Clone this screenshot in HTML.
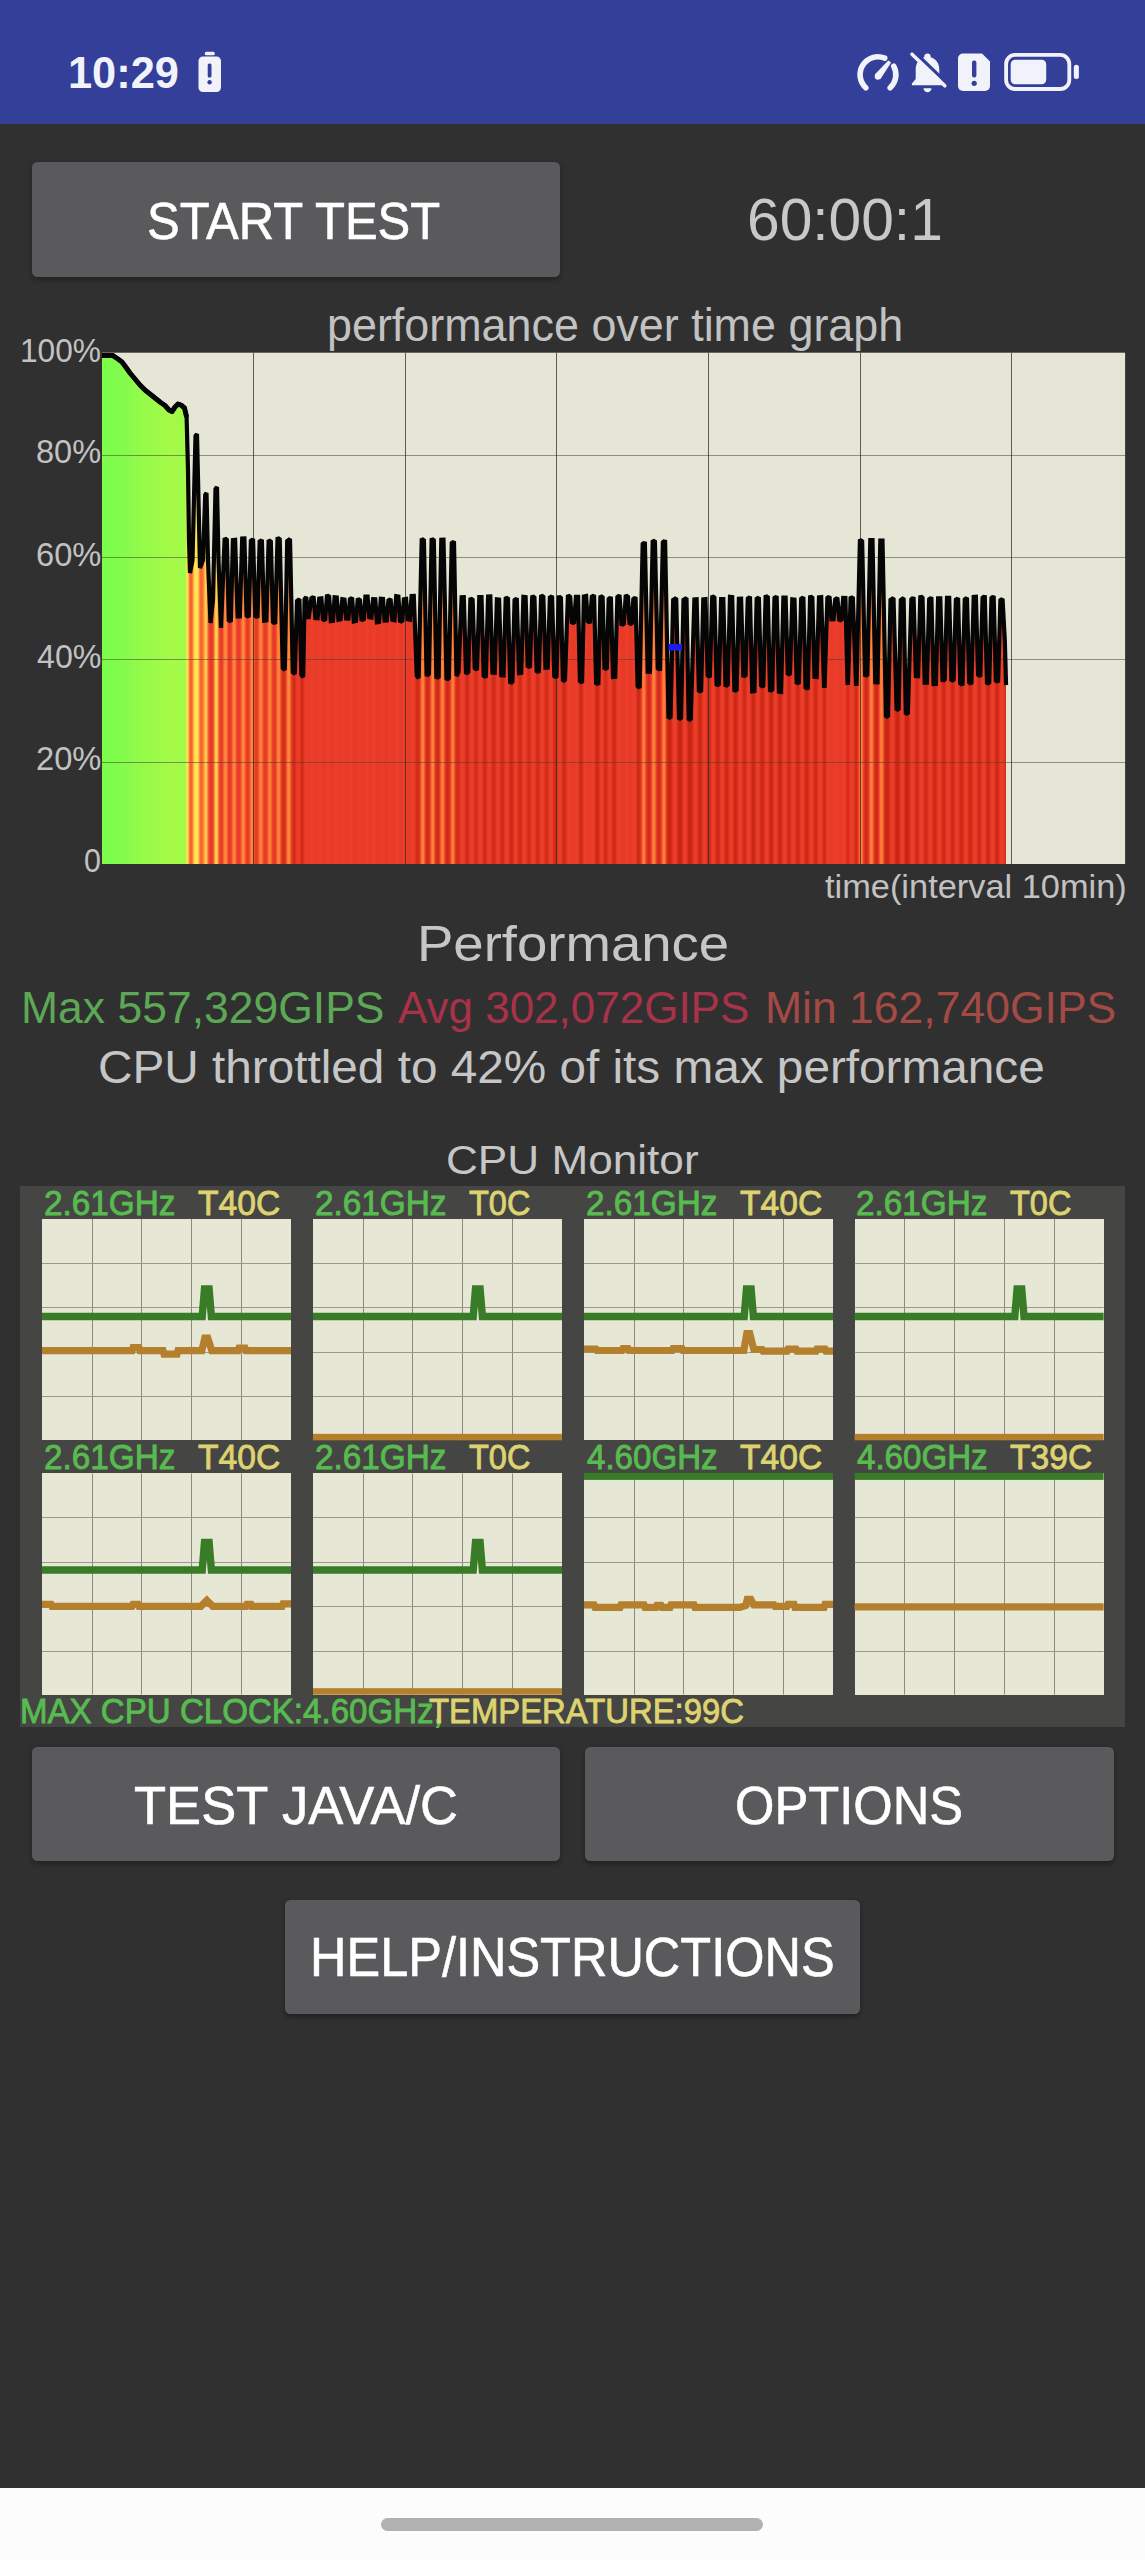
<!DOCTYPE html>
<html lang="en"><head><meta charset="utf-8"><title>CPU Throttling Test</title>
<style>
html,body{margin:0;padding:0;}
body{width:1145px;height:2560px;position:relative;overflow:hidden;background:#303030;font-family:"Liberation Sans",sans-serif;}
.t{position:absolute;white-space:nowrap;line-height:1;transform-origin:0 0;display:block;}
#status{position:absolute;left:0;top:0;width:1145px;height:124px;background:#343f99;}
#nav{position:absolute;left:0;top:2488px;width:1145px;height:72px;background:#fcfcfc;}
#nav .pill{position:absolute;left:381px;top:30px;width:382px;height:13px;border-radius:7px;background:#b1b1b1;}
.btn{position:absolute;background:#5a5a5c;border-radius:5.5px;box-shadow:0 2.5px 5px rgba(0,0,0,.32);}
#panel{position:absolute;left:20px;top:1186.2px;width:1105.2px;height:541px;background:#454544;}
.cell{position:absolute;width:249px;height:221.2px;background:#e7e7d6;}
svg{position:absolute;left:0;top:0;overflow:visible;}
.grp{position:absolute;left:0;top:0;width:0;height:0;}
</style></head><body>

<header id="status">
<span class="t" style="left:68.0px;top:50.8px;font-size:44.0px;color:#f2f2fb;transform:scaleX(0.9858);font-weight:700;">10:29</span>
<svg width="1145" height="124" viewBox="0 0 1145 124">
<g fill="#f2f2fb">
<rect x="204.8" y="51.800" width="10" height="3.400" rx="1.5"/>
<rect x="198.5" y="56.500" width="22.5" height="35.500" rx="4.500"/>
</g>
<rect x="207.7" y="63.5" width="3.8" height="14" rx="1.5" fill="#343f99"/>
<circle cx="209.6" cy="82.3" r="2.2" fill="#343f99"/>
<g fill="none" stroke="#f2f2fb" stroke-width="5.6" stroke-linecap="round">
<path d="M865.8 87.800 A17.900 17.900 0 0 1 884.700 58.100"/>
<path d="M893.800 66.300 A17.900 17.900 0 0 1 890.200 87.800"/>
</g>
<path d="M875.450 74.730 L888.460 61.250 L890.340 62.750 L880.150 78.470 Z" fill="#f2f2fb" stroke="#f2f2fb" stroke-width="1.2" stroke-linejoin="round"/>
<circle cx="877.8" cy="76.600" r="3.100" fill="#f2f2fb"/>
<g fill="#f2f2fb">
<path d="M927.5 53.5c-1.9 0-3.2 1.2-3.2 3v.8c-5.400 1.500-8.600 6.200-8.600 12.200v9.500l-3.800 4.500v1.800h31.200v-1.800l-3.800-4.500v-9.500c0-6-3.200-10.700-8.600-12.200v-.8c0-1.800-1.300-3-3.200-3z"/>
<path d="M923.5 88.300h8c0 2.300-1.800 4-4 4s-4-1.700-4-4z"/>
</g>
<path d="M914.300 51.800 L947.300 83.600" stroke="#343f99" stroke-width="3.400" stroke-linecap="butt"/>
<path d="M912 54.200 L944.800 85.800" stroke="#f2f2fb" stroke-width="3.500" stroke-linecap="round"/>
<path d="M963 53.500h19l8 8v24.500a5 5 0 0 1-5 5h-22a5 5 0 0 1-5-5v-27.500a5 5 0 0 1 5-5z" fill="#f2f2fb"/>
<rect x="972" y="60.500" width="4.400" height="17" rx="2" fill="#343f99"/>
<circle cx="974.2" cy="83.300" r="2.600" fill="#343f99"/>
<rect x="1006.100" y="54.900" width="63.200" height="34.100" rx="9" fill="none" stroke="#f2f2fb" stroke-width="3.800"/>
<rect x="1010.700" y="59.700" width="35.500" height="24.500" rx="4.500" fill="#f2f2fb"/>
<rect x="1073.800" y="64.800" width="5.100" height="14.100" rx="2.500" fill="#f2f2fb"/>
</svg>
</header>
<main class="grp">
<div class="btn" style="left:32px;top:162.2px;width:528px;height:114.9px;"><span class="t" style="left:114.8px;top:32.4px;font-size:52.0px;color:#ffffff;transform:scaleX(0.9424);-webkit-text-stroke:0.60px #ffffff;">START TEST</span></div>
<span class="t" style="left:747.1px;top:189.6px;font-size:60.0px;color:#c8c8c8;transform:scaleX(0.9781);">60:00:1</span>
<section class="grp" id="graph">
<span class="t" style="left:326.7px;top:301.6px;font-size:46.0px;color:#c2c2c2;transform:scaleX(0.9756);">performance over time graph</span>
<svg width="1145" height="900" viewBox="0 0 1145 900">
<defs><linearGradient id="gg" gradientUnits="userSpaceOnUse" x1="102.0" y1="0" x2="1006" y2="0"><stop offset="0.0000" stop-color="#7efc4c"/><stop offset="0.0011" stop-color="#7efc4c"/><stop offset="0.0022" stop-color="#7efc4c"/><stop offset="0.0033" stop-color="#7efc4c"/><stop offset="0.0044" stop-color="#7efc4c"/><stop offset="0.0055" stop-color="#7efc4c"/><stop offset="0.0066" stop-color="#7efc4c"/><stop offset="0.0077" stop-color="#7efc4c"/><stop offset="0.0088" stop-color="#7efc4c"/><stop offset="0.0100" stop-color="#7efc4c"/><stop offset="0.0111" stop-color="#7efc4c"/><stop offset="0.0122" stop-color="#7efc4c"/><stop offset="0.0133" stop-color="#7ffc4c"/><stop offset="0.0144" stop-color="#7ffc4c"/><stop offset="0.0155" stop-color="#80fc4c"/><stop offset="0.0166" stop-color="#80fc4c"/><stop offset="0.0177" stop-color="#80fc4c"/><stop offset="0.0188" stop-color="#81fc4b"/><stop offset="0.0199" stop-color="#82fc4b"/><stop offset="0.0210" stop-color="#82fc4b"/><stop offset="0.0221" stop-color="#83fc4b"/><stop offset="0.0232" stop-color="#84fc4b"/><stop offset="0.0243" stop-color="#85fc4b"/><stop offset="0.0254" stop-color="#85fc4b"/><stop offset="0.0265" stop-color="#86fb4b"/><stop offset="0.0277" stop-color="#87fb4b"/><stop offset="0.0288" stop-color="#88fb4b"/><stop offset="0.0299" stop-color="#89fb4b"/><stop offset="0.0310" stop-color="#8afb4b"/><stop offset="0.0321" stop-color="#8bfb4a"/><stop offset="0.0332" stop-color="#8cfb4a"/><stop offset="0.0343" stop-color="#8dfb4a"/><stop offset="0.0354" stop-color="#8efb4a"/><stop offset="0.0365" stop-color="#8ffb4a"/><stop offset="0.0376" stop-color="#90fb4a"/><stop offset="0.0387" stop-color="#90fb4a"/><stop offset="0.0398" stop-color="#91fb4a"/><stop offset="0.0409" stop-color="#92fb4a"/><stop offset="0.0420" stop-color="#93fb4a"/><stop offset="0.0431" stop-color="#94fb4a"/><stop offset="0.0442" stop-color="#94fb4a"/><stop offset="0.0454" stop-color="#95fb49"/><stop offset="0.0465" stop-color="#96fb49"/><stop offset="0.0476" stop-color="#96fb49"/><stop offset="0.0487" stop-color="#97fb49"/><stop offset="0.0498" stop-color="#98fb49"/><stop offset="0.0509" stop-color="#98fb49"/><stop offset="0.0520" stop-color="#99fb49"/><stop offset="0.0531" stop-color="#99fb49"/><stop offset="0.0542" stop-color="#9afb49"/><stop offset="0.0553" stop-color="#9bfa49"/><stop offset="0.0564" stop-color="#9bfa49"/><stop offset="0.0575" stop-color="#9cfa49"/><stop offset="0.0586" stop-color="#9cfa49"/><stop offset="0.0597" stop-color="#9dfa49"/><stop offset="0.0608" stop-color="#9dfa49"/><stop offset="0.0619" stop-color="#9efa49"/><stop offset="0.0631" stop-color="#9efa49"/><stop offset="0.0642" stop-color="#9ffa48"/><stop offset="0.0653" stop-color="#a0fa48"/><stop offset="0.0664" stop-color="#a0fa48"/><stop offset="0.0675" stop-color="#a1fa48"/><stop offset="0.0686" stop-color="#a1fa48"/><stop offset="0.0697" stop-color="#a2fa48"/><stop offset="0.0708" stop-color="#a2fa48"/><stop offset="0.0719" stop-color="#a3fa48"/><stop offset="0.0730" stop-color="#a4fa48"/><stop offset="0.0741" stop-color="#a6fa48"/><stop offset="0.0752" stop-color="#a8f948"/><stop offset="0.0763" stop-color="#a9f948"/><stop offset="0.0774" stop-color="#a9f948"/><stop offset="0.0785" stop-color="#a6fa48"/><stop offset="0.0796" stop-color="#a4fa48"/><stop offset="0.0808" stop-color="#a3fa48"/><stop offset="0.0819" stop-color="#a2fa48"/><stop offset="0.0830" stop-color="#a1fa48"/><stop offset="0.0841" stop-color="#a1fa48"/><stop offset="0.0852" stop-color="#a1fa48"/><stop offset="0.0863" stop-color="#a1fa48"/><stop offset="0.0874" stop-color="#a1fa48"/><stop offset="0.0885" stop-color="#a2fa48"/><stop offset="0.0896" stop-color="#a2fa48"/><stop offset="0.0907" stop-color="#a3fa48"/><stop offset="0.0918" stop-color="#a7f948"/><stop offset="0.0929" stop-color="#b4f749"/><stop offset="0.0940" stop-color="#ffe754"/><stop offset="0.0951" stop-color="#ffdc51"/><stop offset="0.0962" stop-color="#ff973f"/><stop offset="0.0973" stop-color="#f76733"/><stop offset="0.0985" stop-color="#f56232"/><stop offset="0.0996" stop-color="#f86b34"/><stop offset="0.1007" stop-color="#ff8d3c"/><stop offset="0.1018" stop-color="#ffd34f"/><stop offset="0.1029" stop-color="#ffe052"/><stop offset="0.1040" stop-color="#ffe653"/><stop offset="0.1051" stop-color="#ffe453"/><stop offset="0.1062" stop-color="#ffdc51"/><stop offset="0.1073" stop-color="#ffa743"/><stop offset="0.1084" stop-color="#fa7135"/><stop offset="0.1095" stop-color="#f66533"/><stop offset="0.1106" stop-color="#f76833"/><stop offset="0.1117" stop-color="#fb7436"/><stop offset="0.1128" stop-color="#ff993f"/><stop offset="0.1139" stop-color="#ffc64b"/><stop offset="0.1150" stop-color="#ffd650"/><stop offset="0.1162" stop-color="#ffaf45"/><stop offset="0.1173" stop-color="#fa7236"/><stop offset="0.1184" stop-color="#ef4a2c"/><stop offset="0.1195" stop-color="#ea3c29"/><stop offset="0.1206" stop-color="#e93a28"/><stop offset="0.1217" stop-color="#ea3c29"/><stop offset="0.1228" stop-color="#ed422a"/><stop offset="0.1239" stop-color="#fa7236"/><stop offset="0.1250" stop-color="#ffb747"/><stop offset="0.1261" stop-color="#ffd850"/><stop offset="0.1272" stop-color="#ffd14f"/><stop offset="0.1283" stop-color="#ff923e"/><stop offset="0.1294" stop-color="#f45c30"/><stop offset="0.1305" stop-color="#eb3e29"/><stop offset="0.1316" stop-color="#e93a29"/><stop offset="0.1327" stop-color="#eb3d29"/><stop offset="0.1338" stop-color="#f1532e"/><stop offset="0.1350" stop-color="#fa7236"/><stop offset="0.1361" stop-color="#ff853a"/><stop offset="0.1372" stop-color="#ff893b"/><stop offset="0.1383" stop-color="#fa7436"/><stop offset="0.1394" stop-color="#ed452b"/><stop offset="0.1405" stop-color="#e93a29"/><stop offset="0.1416" stop-color="#e83928"/><stop offset="0.1427" stop-color="#ea3c29"/><stop offset="0.1438" stop-color="#f2552f"/><stop offset="0.1449" stop-color="#fd7b38"/><stop offset="0.1460" stop-color="#ff873b"/><stop offset="0.1471" stop-color="#fd7e39"/><stop offset="0.1482" stop-color="#f56132"/><stop offset="0.1493" stop-color="#eb3f2a"/><stop offset="0.1504" stop-color="#e93a29"/><stop offset="0.1515" stop-color="#e93a28"/><stop offset="0.1527" stop-color="#eb3d29"/><stop offset="0.1538" stop-color="#f2562f"/><stop offset="0.1549" stop-color="#fc7937"/><stop offset="0.1560" stop-color="#ff8a3c"/><stop offset="0.1571" stop-color="#ff853a"/><stop offset="0.1582" stop-color="#f86a34"/><stop offset="0.1593" stop-color="#ec402a"/><stop offset="0.1604" stop-color="#e93b29"/><stop offset="0.1615" stop-color="#e93a29"/><stop offset="0.1626" stop-color="#eb3e29"/><stop offset="0.1637" stop-color="#f45d31"/><stop offset="0.1648" stop-color="#fd7d38"/><stop offset="0.1659" stop-color="#ff873b"/><stop offset="0.1670" stop-color="#fd7d38"/><stop offset="0.1681" stop-color="#f45c31"/><stop offset="0.1692" stop-color="#eb3e29"/><stop offset="0.1704" stop-color="#e93a28"/><stop offset="0.1715" stop-color="#e93a29"/><stop offset="0.1726" stop-color="#eb3f2a"/><stop offset="0.1737" stop-color="#f66533"/><stop offset="0.1748" stop-color="#fe8039"/><stop offset="0.1759" stop-color="#ff863a"/><stop offset="0.1770" stop-color="#fb7737"/><stop offset="0.1781" stop-color="#f1512e"/><stop offset="0.1792" stop-color="#ea3c29"/><stop offset="0.1803" stop-color="#e83928"/><stop offset="0.1814" stop-color="#e93a28"/><stop offset="0.1825" stop-color="#ec3f2a"/><stop offset="0.1836" stop-color="#f76733"/><stop offset="0.1847" stop-color="#fe8139"/><stop offset="0.1858" stop-color="#ff863a"/><stop offset="0.1869" stop-color="#fb7436"/><stop offset="0.1881" stop-color="#ef4b2d"/><stop offset="0.1892" stop-color="#e93b29"/><stop offset="0.1903" stop-color="#e83828"/><stop offset="0.1914" stop-color="#e93a28"/><stop offset="0.1925" stop-color="#ec402a"/><stop offset="0.1936" stop-color="#f86c34"/><stop offset="0.1947" stop-color="#ff863a"/><stop offset="0.1958" stop-color="#ff893b"/><stop offset="0.1969" stop-color="#fa7136"/><stop offset="0.1980" stop-color="#ec412a"/><stop offset="0.1991" stop-color="#e33524"/><stop offset="0.2002" stop-color="#d52e1b"/><stop offset="0.2013" stop-color="#d12c18"/><stop offset="0.2024" stop-color="#da311f"/><stop offset="0.2035" stop-color="#ea3d29"/><stop offset="0.2046" stop-color="#f86c34"/><stop offset="0.2058" stop-color="#ff873b"/><stop offset="0.2069" stop-color="#ff883b"/><stop offset="0.2080" stop-color="#fc7837"/><stop offset="0.2091" stop-color="#ee492c"/><stop offset="0.2102" stop-color="#e33524"/><stop offset="0.2113" stop-color="#d32d1a"/><stop offset="0.2124" stop-color="#cf2a17"/><stop offset="0.2135" stop-color="#d52e1b"/><stop offset="0.2146" stop-color="#e33524"/><stop offset="0.2157" stop-color="#ea3c29"/><stop offset="0.2168" stop-color="#eb3e2a"/><stop offset="0.2179" stop-color="#eb3e29"/><stop offset="0.2190" stop-color="#e83828"/><stop offset="0.2201" stop-color="#d72f1c"/><stop offset="0.2212" stop-color="#ce2a16"/><stop offset="0.2223" stop-color="#d22c19"/><stop offset="0.2235" stop-color="#e23524"/><stop offset="0.2246" stop-color="#eb3d29"/><stop offset="0.2257" stop-color="#eb3e2a"/><stop offset="0.2268" stop-color="#ea3d29"/><stop offset="0.2279" stop-color="#e93b29"/><stop offset="0.2290" stop-color="#e93a29"/><stop offset="0.2301" stop-color="#ea3c29"/><stop offset="0.2312" stop-color="#eb3e29"/><stop offset="0.2323" stop-color="#eb3f2a"/><stop offset="0.2334" stop-color="#eb3f2a"/><stop offset="0.2345" stop-color="#eb3d29"/><stop offset="0.2356" stop-color="#e93b29"/><stop offset="0.2367" stop-color="#e93a28"/><stop offset="0.2378" stop-color="#e93a28"/><stop offset="0.2389" stop-color="#ea3b29"/><stop offset="0.2400" stop-color="#eb3d29"/><stop offset="0.2412" stop-color="#eb3f2a"/><stop offset="0.2423" stop-color="#eb3e2a"/><stop offset="0.2434" stop-color="#ea3c29"/><stop offset="0.2445" stop-color="#e93a28"/><stop offset="0.2456" stop-color="#e83928"/><stop offset="0.2467" stop-color="#e93a28"/><stop offset="0.2478" stop-color="#ea3c29"/><stop offset="0.2489" stop-color="#eb3e2a"/><stop offset="0.2500" stop-color="#ec3f2a"/><stop offset="0.2511" stop-color="#eb3e2a"/><stop offset="0.2522" stop-color="#ea3c29"/><stop offset="0.2533" stop-color="#e93928"/><stop offset="0.2544" stop-color="#e83928"/><stop offset="0.2555" stop-color="#e93a28"/><stop offset="0.2566" stop-color="#ea3c29"/><stop offset="0.2577" stop-color="#eb3f2a"/><stop offset="0.2588" stop-color="#eb3f2a"/><stop offset="0.2600" stop-color="#eb3e29"/><stop offset="0.2611" stop-color="#e93b29"/><stop offset="0.2622" stop-color="#e93928"/><stop offset="0.2633" stop-color="#e93928"/><stop offset="0.2644" stop-color="#e93b29"/><stop offset="0.2655" stop-color="#eb3d29"/><stop offset="0.2666" stop-color="#eb3e2a"/><stop offset="0.2677" stop-color="#eb3e2a"/><stop offset="0.2688" stop-color="#ea3d29"/><stop offset="0.2699" stop-color="#e93a29"/><stop offset="0.2710" stop-color="#e93928"/><stop offset="0.2721" stop-color="#e93a28"/><stop offset="0.2732" stop-color="#ea3c29"/><stop offset="0.2743" stop-color="#eb3e29"/><stop offset="0.2754" stop-color="#eb3f2a"/><stop offset="0.2765" stop-color="#eb3e29"/><stop offset="0.2777" stop-color="#ea3c29"/><stop offset="0.2788" stop-color="#e93928"/><stop offset="0.2799" stop-color="#e83928"/><stop offset="0.2810" stop-color="#e93928"/><stop offset="0.2821" stop-color="#ea3c29"/><stop offset="0.2832" stop-color="#eb3e29"/><stop offset="0.2843" stop-color="#eb3e2a"/><stop offset="0.2854" stop-color="#eb3d29"/><stop offset="0.2865" stop-color="#ea3b29"/><stop offset="0.2876" stop-color="#e93928"/><stop offset="0.2887" stop-color="#e93928"/><stop offset="0.2898" stop-color="#e93a29"/><stop offset="0.2909" stop-color="#eb3d29"/><stop offset="0.2920" stop-color="#eb3f2a"/><stop offset="0.2931" stop-color="#eb3f2a"/><stop offset="0.2942" stop-color="#eb3e29"/><stop offset="0.2954" stop-color="#e93b29"/><stop offset="0.2965" stop-color="#e93a28"/><stop offset="0.2976" stop-color="#e93a28"/><stop offset="0.2987" stop-color="#ea3b29"/><stop offset="0.2998" stop-color="#eb3e29"/><stop offset="0.3009" stop-color="#eb3e2a"/><stop offset="0.3020" stop-color="#eb3e29"/><stop offset="0.3031" stop-color="#ea3c29"/><stop offset="0.3042" stop-color="#e93928"/><stop offset="0.3053" stop-color="#e83828"/><stop offset="0.3064" stop-color="#e93928"/><stop offset="0.3075" stop-color="#ea3c29"/><stop offset="0.3086" stop-color="#eb3e29"/><stop offset="0.3097" stop-color="#eb3e2a"/><stop offset="0.3108" stop-color="#eb3e29"/><stop offset="0.3119" stop-color="#ea3b29"/><stop offset="0.3131" stop-color="#e93928"/><stop offset="0.3142" stop-color="#e83928"/><stop offset="0.3153" stop-color="#e93a28"/><stop offset="0.3164" stop-color="#ea3c29"/><stop offset="0.3175" stop-color="#eb3e2a"/><stop offset="0.3186" stop-color="#eb3e2a"/><stop offset="0.3197" stop-color="#ea3d29"/><stop offset="0.3208" stop-color="#e93a29"/><stop offset="0.3219" stop-color="#e93928"/><stop offset="0.3230" stop-color="#e93928"/><stop offset="0.3241" stop-color="#e93b29"/><stop offset="0.3252" stop-color="#eb3e29"/><stop offset="0.3263" stop-color="#ec3f2a"/><stop offset="0.3274" stop-color="#eb3f2a"/><stop offset="0.3285" stop-color="#ea3d29"/><stop offset="0.3296" stop-color="#e93a28"/><stop offset="0.3308" stop-color="#e83928"/><stop offset="0.3319" stop-color="#e93928"/><stop offset="0.3330" stop-color="#ea3b29"/><stop offset="0.3341" stop-color="#eb3e29"/><stop offset="0.3352" stop-color="#eb3e2a"/><stop offset="0.3363" stop-color="#eb3e29"/><stop offset="0.3374" stop-color="#ea3c29"/><stop offset="0.3385" stop-color="#e93a28"/><stop offset="0.3396" stop-color="#e93928"/><stop offset="0.3407" stop-color="#e93a29"/><stop offset="0.3418" stop-color="#ea3d29"/><stop offset="0.3429" stop-color="#eb3f2a"/><stop offset="0.3440" stop-color="#ec3f2a"/><stop offset="0.3451" stop-color="#ea3d29"/><stop offset="0.3462" stop-color="#e63726"/><stop offset="0.3473" stop-color="#d8301d"/><stop offset="0.3485" stop-color="#cf2b17"/><stop offset="0.3496" stop-color="#ce2a16"/><stop offset="0.3507" stop-color="#d72f1c"/><stop offset="0.3518" stop-color="#e93a29"/><stop offset="0.3529" stop-color="#f45c31"/><stop offset="0.3540" stop-color="#fe8039"/><stop offset="0.3551" stop-color="#ff883b"/><stop offset="0.3562" stop-color="#fa7436"/><stop offset="0.3573" stop-color="#ec402a"/><stop offset="0.3584" stop-color="#df3322"/><stop offset="0.3595" stop-color="#d12b18"/><stop offset="0.3606" stop-color="#ce2a16"/><stop offset="0.3617" stop-color="#d62e1c"/><stop offset="0.3628" stop-color="#e93928"/><stop offset="0.3639" stop-color="#f45d31"/><stop offset="0.3650" stop-color="#fe8239"/><stop offset="0.3662" stop-color="#ff883b"/><stop offset="0.3673" stop-color="#f96e35"/><stop offset="0.3684" stop-color="#eb3e29"/><stop offset="0.3695" stop-color="#db311f"/><stop offset="0.3706" stop-color="#ce2a16"/><stop offset="0.3717" stop-color="#ce2a16"/><stop offset="0.3728" stop-color="#d8301d"/><stop offset="0.3739" stop-color="#ea3c29"/><stop offset="0.3750" stop-color="#f86a34"/><stop offset="0.3761" stop-color="#ff863b"/><stop offset="0.3772" stop-color="#ff833a"/><stop offset="0.3783" stop-color="#f66533"/><stop offset="0.3794" stop-color="#ea3c29"/><stop offset="0.3805" stop-color="#da301e"/><stop offset="0.3816" stop-color="#ce2a16"/><stop offset="0.3827" stop-color="#cd2a16"/><stop offset="0.3838" stop-color="#d52e1b"/><stop offset="0.3850" stop-color="#e83828"/><stop offset="0.3861" stop-color="#f2542f"/><stop offset="0.3872" stop-color="#fc7a38"/><stop offset="0.3883" stop-color="#ff833a"/><stop offset="0.3894" stop-color="#fa7236"/><stop offset="0.3905" stop-color="#ec3f2a"/><stop offset="0.3916" stop-color="#dd3220"/><stop offset="0.3927" stop-color="#d02b17"/><stop offset="0.3938" stop-color="#d02b17"/><stop offset="0.3949" stop-color="#d62e1c"/><stop offset="0.3960" stop-color="#e23524"/><stop offset="0.3971" stop-color="#e93b29"/><stop offset="0.3982" stop-color="#eb3e2a"/><stop offset="0.3993" stop-color="#eb3f2a"/><stop offset="0.4004" stop-color="#ea3c29"/><stop offset="0.4015" stop-color="#e13423"/><stop offset="0.4027" stop-color="#d32d1a"/><stop offset="0.4038" stop-color="#cf2b17"/><stop offset="0.4049" stop-color="#d12c18"/><stop offset="0.4060" stop-color="#dc3220"/><stop offset="0.4071" stop-color="#e93a28"/><stop offset="0.4082" stop-color="#eb3e29"/><stop offset="0.4093" stop-color="#eb3e2a"/><stop offset="0.4104" stop-color="#e93b29"/><stop offset="0.4115" stop-color="#df3321"/><stop offset="0.4126" stop-color="#d42d1a"/><stop offset="0.4137" stop-color="#d12c18"/><stop offset="0.4148" stop-color="#d52e1b"/><stop offset="0.4159" stop-color="#e13423"/><stop offset="0.4170" stop-color="#ea3c29"/><stop offset="0.4181" stop-color="#eb3f2a"/><stop offset="0.4192" stop-color="#eb3e2a"/><stop offset="0.4204" stop-color="#e93928"/><stop offset="0.4215" stop-color="#da301e"/><stop offset="0.4226" stop-color="#cf2b17"/><stop offset="0.4237" stop-color="#ce2a16"/><stop offset="0.4248" stop-color="#d32d1a"/><stop offset="0.4259" stop-color="#e23524"/><stop offset="0.4270" stop-color="#ea3c29"/><stop offset="0.4281" stop-color="#ec3f2a"/><stop offset="0.4292" stop-color="#eb3e2a"/><stop offset="0.4303" stop-color="#e83928"/><stop offset="0.4314" stop-color="#d9301e"/><stop offset="0.4325" stop-color="#d02b17"/><stop offset="0.4336" stop-color="#cf2b17"/><stop offset="0.4347" stop-color="#d62e1c"/><stop offset="0.4358" stop-color="#e53626"/><stop offset="0.4369" stop-color="#ea3d29"/><stop offset="0.4381" stop-color="#eb3e2a"/><stop offset="0.4392" stop-color="#ea3d29"/><stop offset="0.4403" stop-color="#e53626"/><stop offset="0.4414" stop-color="#d52e1b"/><stop offset="0.4425" stop-color="#ce2a16"/><stop offset="0.4436" stop-color="#cf2a16"/><stop offset="0.4447" stop-color="#d72f1c"/><stop offset="0.4458" stop-color="#e73828"/><stop offset="0.4469" stop-color="#eb3d29"/><stop offset="0.4480" stop-color="#eb3f2a"/><stop offset="0.4491" stop-color="#ea3c29"/><stop offset="0.4502" stop-color="#e13423"/><stop offset="0.4513" stop-color="#d12c18"/><stop offset="0.4524" stop-color="#cd2915"/><stop offset="0.4535" stop-color="#cd2a16"/><stop offset="0.4546" stop-color="#d72f1c"/><stop offset="0.4558" stop-color="#e83828"/><stop offset="0.4569" stop-color="#eb3e29"/><stop offset="0.4580" stop-color="#eb3e2a"/><stop offset="0.4591" stop-color="#ea3b29"/><stop offset="0.4602" stop-color="#e03422"/><stop offset="0.4613" stop-color="#d32d19"/><stop offset="0.4624" stop-color="#cf2b17"/><stop offset="0.4635" stop-color="#d22c19"/><stop offset="0.4646" stop-color="#dd3220"/><stop offset="0.4657" stop-color="#e93b29"/><stop offset="0.4668" stop-color="#eb3f2a"/><stop offset="0.4679" stop-color="#eb3f2a"/><stop offset="0.4690" stop-color="#ea3b29"/><stop offset="0.4701" stop-color="#df3322"/><stop offset="0.4712" stop-color="#d52e1b"/><stop offset="0.4723" stop-color="#d22c19"/><stop offset="0.4735" stop-color="#d62e1c"/><stop offset="0.4746" stop-color="#e23524"/><stop offset="0.4757" stop-color="#ea3c29"/><stop offset="0.4768" stop-color="#eb3f2a"/><stop offset="0.4779" stop-color="#eb3e2a"/><stop offset="0.4790" stop-color="#e93a28"/><stop offset="0.4801" stop-color="#db311f"/><stop offset="0.4812" stop-color="#d12c18"/><stop offset="0.4823" stop-color="#d02b17"/><stop offset="0.4834" stop-color="#d52e1b"/><stop offset="0.4845" stop-color="#e33625"/><stop offset="0.4856" stop-color="#ea3d29"/><stop offset="0.4867" stop-color="#ec3f2a"/><stop offset="0.4878" stop-color="#eb3e2a"/><stop offset="0.4889" stop-color="#e83928"/><stop offset="0.4900" stop-color="#db311f"/><stop offset="0.4912" stop-color="#d32c19"/><stop offset="0.4923" stop-color="#d22c19"/><stop offset="0.4934" stop-color="#d9301d"/><stop offset="0.4945" stop-color="#e73827"/><stop offset="0.4956" stop-color="#eb3d29"/><stop offset="0.4967" stop-color="#eb3f2a"/><stop offset="0.4978" stop-color="#eb3d29"/><stop offset="0.4989" stop-color="#e53626"/><stop offset="0.5000" stop-color="#d52e1b"/><stop offset="0.5011" stop-color="#ce2a16"/><stop offset="0.5022" stop-color="#ce2a16"/><stop offset="0.5033" stop-color="#d72f1c"/><stop offset="0.5044" stop-color="#e83828"/><stop offset="0.5055" stop-color="#eb3e29"/><stop offset="0.5066" stop-color="#eb3f2a"/><stop offset="0.5077" stop-color="#ea3c29"/><stop offset="0.5088" stop-color="#df3322"/><stop offset="0.5100" stop-color="#d02b17"/><stop offset="0.5111" stop-color="#cd2915"/><stop offset="0.5122" stop-color="#cf2b17"/><stop offset="0.5133" stop-color="#db311f"/><stop offset="0.5144" stop-color="#e83828"/><stop offset="0.5155" stop-color="#eb3e29"/><stop offset="0.5166" stop-color="#ec3f2a"/><stop offset="0.5177" stop-color="#eb3e2a"/><stop offset="0.5188" stop-color="#ea3c29"/><stop offset="0.5199" stop-color="#e93928"/><stop offset="0.5210" stop-color="#e83828"/><stop offset="0.5221" stop-color="#e83928"/><stop offset="0.5232" stop-color="#ea3c29"/><stop offset="0.5243" stop-color="#eb3e2a"/><stop offset="0.5254" stop-color="#eb3f2a"/><stop offset="0.5265" stop-color="#ea3d29"/><stop offset="0.5277" stop-color="#e03422"/><stop offset="0.5288" stop-color="#cf2b17"/><stop offset="0.5299" stop-color="#cd2915"/><stop offset="0.5310" stop-color="#cf2b17"/><stop offset="0.5321" stop-color="#e03423"/><stop offset="0.5332" stop-color="#ea3d29"/><stop offset="0.5343" stop-color="#ec3f2a"/><stop offset="0.5354" stop-color="#eb3e2a"/><stop offset="0.5365" stop-color="#ea3c29"/><stop offset="0.5376" stop-color="#e93928"/><stop offset="0.5387" stop-color="#e83828"/><stop offset="0.5398" stop-color="#e93928"/><stop offset="0.5409" stop-color="#ea3c29"/><stop offset="0.5420" stop-color="#eb3f2a"/><stop offset="0.5431" stop-color="#ec3f2a"/><stop offset="0.5442" stop-color="#ea3d29"/><stop offset="0.5454" stop-color="#e23524"/><stop offset="0.5465" stop-color="#d02b18"/><stop offset="0.5476" stop-color="#cc2915"/><stop offset="0.5487" stop-color="#cd2915"/><stop offset="0.5498" stop-color="#d82f1d"/><stop offset="0.5509" stop-color="#e93a28"/><stop offset="0.5520" stop-color="#eb3f2a"/><stop offset="0.5531" stop-color="#eb3f2a"/><stop offset="0.5542" stop-color="#e93b29"/><stop offset="0.5553" stop-color="#dd3220"/><stop offset="0.5564" stop-color="#d32c19"/><stop offset="0.5575" stop-color="#d12c18"/><stop offset="0.5586" stop-color="#d82f1d"/><stop offset="0.5597" stop-color="#e83828"/><stop offset="0.5608" stop-color="#eb3e29"/><stop offset="0.5619" stop-color="#eb3f2a"/><stop offset="0.5631" stop-color="#ea3c29"/><stop offset="0.5642" stop-color="#e03423"/><stop offset="0.5653" stop-color="#d22c19"/><stop offset="0.5664" stop-color="#ce2a16"/><stop offset="0.5675" stop-color="#d02b17"/><stop offset="0.5686" stop-color="#dc311f"/><stop offset="0.5697" stop-color="#e93b29"/><stop offset="0.5708" stop-color="#eb3f2a"/><stop offset="0.5719" stop-color="#eb3f2a"/><stop offset="0.5730" stop-color="#eb3d29"/><stop offset="0.5741" stop-color="#e93a29"/><stop offset="0.5752" stop-color="#e83828"/><stop offset="0.5763" stop-color="#e83828"/><stop offset="0.5774" stop-color="#e93928"/><stop offset="0.5785" stop-color="#ea3c29"/><stop offset="0.5796" stop-color="#eb3f2a"/><stop offset="0.5808" stop-color="#ec3f2a"/><stop offset="0.5819" stop-color="#eb3e29"/><stop offset="0.5830" stop-color="#e93b29"/><stop offset="0.5841" stop-color="#e83828"/><stop offset="0.5852" stop-color="#e83828"/><stop offset="0.5863" stop-color="#e93928"/><stop offset="0.5874" stop-color="#ea3d29"/><stop offset="0.5885" stop-color="#eb3e2a"/><stop offset="0.5896" stop-color="#eb3e2a"/><stop offset="0.5907" stop-color="#e93928"/><stop offset="0.5918" stop-color="#d72f1c"/><stop offset="0.5929" stop-color="#cd2915"/><stop offset="0.5940" stop-color="#cc2915"/><stop offset="0.5951" stop-color="#d32d19"/><stop offset="0.5962" stop-color="#e83828"/><stop offset="0.5973" stop-color="#f2562f"/><stop offset="0.5985" stop-color="#fc7b38"/><stop offset="0.5996" stop-color="#fe823a"/><stop offset="0.6007" stop-color="#f97035"/><stop offset="0.6018" stop-color="#ec402a"/><stop offset="0.6029" stop-color="#e03423"/><stop offset="0.6040" stop-color="#d22c19"/><stop offset="0.6051" stop-color="#d02b17"/><stop offset="0.6062" stop-color="#d72f1c"/><stop offset="0.6073" stop-color="#e83928"/><stop offset="0.6084" stop-color="#f35830"/><stop offset="0.6095" stop-color="#fd7d38"/><stop offset="0.6106" stop-color="#ff863a"/><stop offset="0.6117" stop-color="#fa7436"/><stop offset="0.6128" stop-color="#ed452b"/><stop offset="0.6139" stop-color="#e33524"/><stop offset="0.6150" stop-color="#d42d1a"/><stop offset="0.6162" stop-color="#d12c18"/><stop offset="0.6173" stop-color="#d62f1c"/><stop offset="0.6184" stop-color="#e73828"/><stop offset="0.6195" stop-color="#f1502e"/><stop offset="0.6206" stop-color="#fc7937"/><stop offset="0.6217" stop-color="#ff853a"/><stop offset="0.6228" stop-color="#fb7737"/><stop offset="0.6239" stop-color="#ee472c"/><stop offset="0.6250" stop-color="#e03422"/><stop offset="0.6261" stop-color="#cc2915"/><stop offset="0.6272" stop-color="#c82612"/><stop offset="0.6283" stop-color="#c82612"/><stop offset="0.6294" stop-color="#cb2814"/><stop offset="0.6305" stop-color="#d9301e"/><stop offset="0.6316" stop-color="#e93a29"/><stop offset="0.6327" stop-color="#eb3e2a"/><stop offset="0.6338" stop-color="#eb3e2a"/><stop offset="0.6350" stop-color="#ea3d29"/><stop offset="0.6361" stop-color="#e43625"/><stop offset="0.6372" stop-color="#ce2a16"/><stop offset="0.6383" stop-color="#c82612"/><stop offset="0.6394" stop-color="#c82612"/><stop offset="0.6405" stop-color="#c92612"/><stop offset="0.6416" stop-color="#d02b17"/><stop offset="0.6427" stop-color="#e73727"/><stop offset="0.6438" stop-color="#eb3e29"/><stop offset="0.6449" stop-color="#eb3e2a"/><stop offset="0.6460" stop-color="#eb3e29"/><stop offset="0.6471" stop-color="#e53726"/><stop offset="0.6482" stop-color="#cd2915"/><stop offset="0.6493" stop-color="#c82612"/><stop offset="0.6504" stop-color="#c82612"/><stop offset="0.6515" stop-color="#c92612"/><stop offset="0.6527" stop-color="#ce2a16"/><stop offset="0.6538" stop-color="#dd3220"/><stop offset="0.6549" stop-color="#e93a29"/><stop offset="0.6560" stop-color="#eb3e2a"/><stop offset="0.6571" stop-color="#eb3e29"/><stop offset="0.6582" stop-color="#e93928"/><stop offset="0.6593" stop-color="#d72f1d"/><stop offset="0.6604" stop-color="#cd2915"/><stop offset="0.6615" stop-color="#cb2814"/><stop offset="0.6626" stop-color="#cd2915"/><stop offset="0.6637" stop-color="#d9301e"/><stop offset="0.6648" stop-color="#e93a28"/><stop offset="0.6659" stop-color="#eb3e2a"/><stop offset="0.6670" stop-color="#eb3e29"/><stop offset="0.6681" stop-color="#e93928"/><stop offset="0.6692" stop-color="#da311f"/><stop offset="0.6704" stop-color="#d02b17"/><stop offset="0.6715" stop-color="#ce2a16"/><stop offset="0.6726" stop-color="#d22c19"/><stop offset="0.6737" stop-color="#e03423"/><stop offset="0.6748" stop-color="#ea3c29"/><stop offset="0.6759" stop-color="#eb3f2a"/><stop offset="0.6770" stop-color="#eb3e2a"/><stop offset="0.6781" stop-color="#e83928"/><stop offset="0.6792" stop-color="#d72f1c"/><stop offset="0.6803" stop-color="#cd2915"/><stop offset="0.6814" stop-color="#cc2915"/><stop offset="0.6825" stop-color="#cf2b17"/><stop offset="0.6836" stop-color="#df3322"/><stop offset="0.6847" stop-color="#ea3b29"/><stop offset="0.6858" stop-color="#eb3e2a"/><stop offset="0.6869" stop-color="#eb3d29"/><stop offset="0.6881" stop-color="#e73727"/><stop offset="0.6892" stop-color="#d42d1a"/><stop offset="0.6903" stop-color="#cd2915"/><stop offset="0.6914" stop-color="#cc2915"/><stop offset="0.6925" stop-color="#d02b18"/><stop offset="0.6936" stop-color="#e23524"/><stop offset="0.6947" stop-color="#ea3d29"/><stop offset="0.6958" stop-color="#eb3f2a"/><stop offset="0.6969" stop-color="#eb3d29"/><stop offset="0.6980" stop-color="#e53626"/><stop offset="0.6991" stop-color="#d12c18"/><stop offset="0.7002" stop-color="#cc2814"/><stop offset="0.7013" stop-color="#cc2814"/><stop offset="0.7024" stop-color="#cf2b17"/><stop offset="0.7035" stop-color="#e23524"/><stop offset="0.7046" stop-color="#ea3c29"/><stop offset="0.7058" stop-color="#eb3f2a"/><stop offset="0.7069" stop-color="#ea3d29"/><stop offset="0.7080" stop-color="#e53626"/><stop offset="0.7091" stop-color="#d52e1b"/><stop offset="0.7102" stop-color="#ce2a16"/><stop offset="0.7113" stop-color="#ce2a16"/><stop offset="0.7124" stop-color="#d72f1c"/><stop offset="0.7135" stop-color="#e73827"/><stop offset="0.7146" stop-color="#eb3d29"/><stop offset="0.7157" stop-color="#eb3f2a"/><stop offset="0.7168" stop-color="#ea3c29"/><stop offset="0.7179" stop-color="#e03422"/><stop offset="0.7190" stop-color="#ce2a16"/><stop offset="0.7201" stop-color="#cb2814"/><stop offset="0.7212" stop-color="#cc2814"/><stop offset="0.7223" stop-color="#d22c19"/><stop offset="0.7235" stop-color="#e63727"/><stop offset="0.7246" stop-color="#eb3d29"/><stop offset="0.7257" stop-color="#eb3f2a"/><stop offset="0.7268" stop-color="#ea3c29"/><stop offset="0.7279" stop-color="#df3322"/><stop offset="0.7290" stop-color="#cf2a16"/><stop offset="0.7301" stop-color="#cc2915"/><stop offset="0.7312" stop-color="#cd2915"/><stop offset="0.7323" stop-color="#d62e1c"/><stop offset="0.7334" stop-color="#e83828"/><stop offset="0.7345" stop-color="#eb3e2a"/><stop offset="0.7356" stop-color="#ec3f2a"/><stop offset="0.7367" stop-color="#ea3b29"/><stop offset="0.7378" stop-color="#dd3220"/><stop offset="0.7389" stop-color="#cd2a16"/><stop offset="0.7400" stop-color="#cb2814"/><stop offset="0.7412" stop-color="#cc2915"/><stop offset="0.7423" stop-color="#d62e1c"/><stop offset="0.7434" stop-color="#e83928"/><stop offset="0.7445" stop-color="#eb3e2a"/><stop offset="0.7456" stop-color="#eb3f2a"/><stop offset="0.7467" stop-color="#e93a29"/><stop offset="0.7478" stop-color="#da301e"/><stop offset="0.7489" stop-color="#cd2915"/><stop offset="0.7500" stop-color="#cb2814"/><stop offset="0.7511" stop-color="#cc2915"/><stop offset="0.7522" stop-color="#d72f1d"/><stop offset="0.7533" stop-color="#e93a28"/><stop offset="0.7544" stop-color="#eb3e2a"/><stop offset="0.7555" stop-color="#eb3e2a"/><stop offset="0.7566" stop-color="#e93b29"/><stop offset="0.7577" stop-color="#dd3220"/><stop offset="0.7588" stop-color="#d12c18"/><stop offset="0.7600" stop-color="#ce2a16"/><stop offset="0.7611" stop-color="#d22c19"/><stop offset="0.7622" stop-color="#df3321"/><stop offset="0.7633" stop-color="#e93b29"/><stop offset="0.7644" stop-color="#eb3e2a"/><stop offset="0.7655" stop-color="#eb3e29"/><stop offset="0.7666" stop-color="#e83928"/><stop offset="0.7677" stop-color="#d8301d"/><stop offset="0.7688" stop-color="#ce2a16"/><stop offset="0.7699" stop-color="#cd2915"/><stop offset="0.7710" stop-color="#cf2a17"/><stop offset="0.7721" stop-color="#de3321"/><stop offset="0.7732" stop-color="#ea3b29"/><stop offset="0.7743" stop-color="#eb3f2a"/><stop offset="0.7754" stop-color="#eb3e29"/><stop offset="0.7765" stop-color="#e83828"/><stop offset="0.7777" stop-color="#d52e1b"/><stop offset="0.7788" stop-color="#cc2915"/><stop offset="0.7799" stop-color="#cc2915"/><stop offset="0.7810" stop-color="#ce2a16"/><stop offset="0.7821" stop-color="#df3322"/><stop offset="0.7832" stop-color="#ea3c29"/><stop offset="0.7843" stop-color="#eb3f2a"/><stop offset="0.7854" stop-color="#eb3e29"/><stop offset="0.7865" stop-color="#e83828"/><stop offset="0.7876" stop-color="#d82f1d"/><stop offset="0.7887" stop-color="#ce2a16"/><stop offset="0.7898" stop-color="#ce2a16"/><stop offset="0.7909" stop-color="#d42d1a"/><stop offset="0.7920" stop-color="#e33625"/><stop offset="0.7931" stop-color="#ea3d29"/><stop offset="0.7942" stop-color="#eb3f2a"/><stop offset="0.7954" stop-color="#eb3e29"/><stop offset="0.7965" stop-color="#e83828"/><stop offset="0.7976" stop-color="#d8301d"/><stop offset="0.7987" stop-color="#ce2a16"/><stop offset="0.7998" stop-color="#d02b17"/><stop offset="0.8009" stop-color="#df3322"/><stop offset="0.8020" stop-color="#e93b29"/><stop offset="0.8031" stop-color="#eb3f2a"/><stop offset="0.8042" stop-color="#eb3f2a"/><stop offset="0.8053" stop-color="#eb3d29"/><stop offset="0.8064" stop-color="#e93b29"/><stop offset="0.8075" stop-color="#e93928"/><stop offset="0.8086" stop-color="#e93928"/><stop offset="0.8097" stop-color="#e93b29"/><stop offset="0.8108" stop-color="#eb3d29"/><stop offset="0.8119" stop-color="#eb3f2a"/><stop offset="0.8131" stop-color="#eb3e2a"/><stop offset="0.8142" stop-color="#ea3d29"/><stop offset="0.8153" stop-color="#e93a29"/><stop offset="0.8164" stop-color="#e93928"/><stop offset="0.8175" stop-color="#e93928"/><stop offset="0.8186" stop-color="#e93b29"/><stop offset="0.8197" stop-color="#eb3d29"/><stop offset="0.8208" stop-color="#eb3f2a"/><stop offset="0.8219" stop-color="#eb3e29"/><stop offset="0.8230" stop-color="#e83828"/><stop offset="0.8241" stop-color="#d52e1b"/><stop offset="0.8252" stop-color="#cf2b17"/><stop offset="0.8263" stop-color="#da311f"/><stop offset="0.8274" stop-color="#e93928"/><stop offset="0.8285" stop-color="#eb3e2a"/><stop offset="0.8296" stop-color="#eb3f2a"/><stop offset="0.8308" stop-color="#ea3c29"/><stop offset="0.8319" stop-color="#e53626"/><stop offset="0.8330" stop-color="#d72f1c"/><stop offset="0.8341" stop-color="#ce2a16"/><stop offset="0.8352" stop-color="#d42d1a"/><stop offset="0.8363" stop-color="#e83828"/><stop offset="0.8374" stop-color="#f1512e"/><stop offset="0.8385" stop-color="#fc7a38"/><stop offset="0.8396" stop-color="#ff863b"/><stop offset="0.8407" stop-color="#fc7a38"/><stop offset="0.8418" stop-color="#f1502e"/><stop offset="0.8429" stop-color="#e73727"/><stop offset="0.8440" stop-color="#d52e1b"/><stop offset="0.8451" stop-color="#ce2a16"/><stop offset="0.8462" stop-color="#d02b18"/><stop offset="0.8473" stop-color="#de3321"/><stop offset="0.8485" stop-color="#eb3e2a"/><stop offset="0.8496" stop-color="#f96d35"/><stop offset="0.8507" stop-color="#ff863a"/><stop offset="0.8518" stop-color="#ff823a"/><stop offset="0.8529" stop-color="#f56132"/><stop offset="0.8540" stop-color="#e93a28"/><stop offset="0.8551" stop-color="#d52e1b"/><stop offset="0.8562" stop-color="#cd2915"/><stop offset="0.8573" stop-color="#cd2915"/><stop offset="0.8584" stop-color="#d9301d"/><stop offset="0.8595" stop-color="#ea3d29"/><stop offset="0.8606" stop-color="#f86a34"/><stop offset="0.8617" stop-color="#ff853a"/><stop offset="0.8628" stop-color="#fe8239"/><stop offset="0.8639" stop-color="#f56032"/><stop offset="0.8650" stop-color="#e93a29"/><stop offset="0.8662" stop-color="#d32c19"/><stop offset="0.8673" stop-color="#c92713"/><stop offset="0.8684" stop-color="#c82612"/><stop offset="0.8695" stop-color="#c92713"/><stop offset="0.8706" stop-color="#d02b18"/><stop offset="0.8717" stop-color="#e73727"/><stop offset="0.8728" stop-color="#eb3e29"/><stop offset="0.8739" stop-color="#eb3e2a"/><stop offset="0.8750" stop-color="#eb3e2a"/><stop offset="0.8761" stop-color="#e93928"/><stop offset="0.8772" stop-color="#da301e"/><stop offset="0.8783" stop-color="#cc2915"/><stop offset="0.8794" stop-color="#c92612"/><stop offset="0.8805" stop-color="#c82612"/><stop offset="0.8816" stop-color="#cc2915"/><stop offset="0.8827" stop-color="#e03422"/><stop offset="0.8838" stop-color="#ea3c29"/><stop offset="0.8850" stop-color="#eb3e2a"/><stop offset="0.8861" stop-color="#eb3e2a"/><stop offset="0.8872" stop-color="#e83828"/><stop offset="0.8883" stop-color="#d02b17"/><stop offset="0.8894" stop-color="#c92713"/><stop offset="0.8905" stop-color="#c82612"/><stop offset="0.8916" stop-color="#c92713"/><stop offset="0.8927" stop-color="#ce2a16"/><stop offset="0.8938" stop-color="#de3321"/><stop offset="0.8949" stop-color="#e93b29"/><stop offset="0.8960" stop-color="#eb3e2a"/><stop offset="0.8971" stop-color="#eb3e2a"/><stop offset="0.8982" stop-color="#e93a29"/><stop offset="0.8993" stop-color="#dc3220"/><stop offset="0.9004" stop-color="#d12b18"/><stop offset="0.9015" stop-color="#ce2a16"/><stop offset="0.9027" stop-color="#d12c18"/><stop offset="0.9038" stop-color="#de3321"/><stop offset="0.9049" stop-color="#ea3b29"/><stop offset="0.9060" stop-color="#eb3f2a"/><stop offset="0.9071" stop-color="#eb3e2a"/><stop offset="0.9082" stop-color="#e93928"/><stop offset="0.9093" stop-color="#d9301d"/><stop offset="0.9104" stop-color="#ce2a16"/><stop offset="0.9115" stop-color="#cd2915"/><stop offset="0.9126" stop-color="#cf2b17"/><stop offset="0.9137" stop-color="#de3321"/><stop offset="0.9148" stop-color="#ea3b29"/><stop offset="0.9159" stop-color="#eb3f2a"/><stop offset="0.9170" stop-color="#eb3e29"/><stop offset="0.9181" stop-color="#e83828"/><stop offset="0.9192" stop-color="#d62f1c"/><stop offset="0.9204" stop-color="#cd2915"/><stop offset="0.9215" stop-color="#cc2915"/><stop offset="0.9226" stop-color="#d02b17"/><stop offset="0.9237" stop-color="#e03322"/><stop offset="0.9248" stop-color="#ea3c29"/><stop offset="0.9259" stop-color="#eb3f2a"/><stop offset="0.9270" stop-color="#eb3d29"/><stop offset="0.9281" stop-color="#e83828"/><stop offset="0.9292" stop-color="#d62f1c"/><stop offset="0.9303" stop-color="#ce2a16"/><stop offset="0.9314" stop-color="#cd2915"/><stop offset="0.9325" stop-color="#d22c19"/><stop offset="0.9336" stop-color="#e23524"/><stop offset="0.9347" stop-color="#ea3c29"/><stop offset="0.9358" stop-color="#eb3f2a"/><stop offset="0.9369" stop-color="#eb3d29"/><stop offset="0.9381" stop-color="#e63727"/><stop offset="0.9392" stop-color="#d52e1b"/><stop offset="0.9403" stop-color="#cd2a16"/><stop offset="0.9414" stop-color="#cd2915"/><stop offset="0.9425" stop-color="#d32d1a"/><stop offset="0.9436" stop-color="#e43625"/><stop offset="0.9447" stop-color="#ea3d29"/><stop offset="0.9458" stop-color="#eb3e2a"/><stop offset="0.9469" stop-color="#ea3c29"/><stop offset="0.9480" stop-color="#e33525"/><stop offset="0.9491" stop-color="#d22c19"/><stop offset="0.9502" stop-color="#cd2915"/><stop offset="0.9513" stop-color="#cd2915"/><stop offset="0.9524" stop-color="#d32d1a"/><stop offset="0.9535" stop-color="#e53726"/><stop offset="0.9546" stop-color="#eb3d29"/><stop offset="0.9558" stop-color="#eb3f2a"/><stop offset="0.9569" stop-color="#ea3c29"/><stop offset="0.9580" stop-color="#e13423"/><stop offset="0.9591" stop-color="#d12c18"/><stop offset="0.9602" stop-color="#cd2915"/><stop offset="0.9613" stop-color="#cd2915"/><stop offset="0.9624" stop-color="#d62e1b"/><stop offset="0.9635" stop-color="#e83828"/><stop offset="0.9646" stop-color="#eb3e29"/><stop offset="0.9657" stop-color="#ec3f2a"/><stop offset="0.9668" stop-color="#ea3c29"/><stop offset="0.9679" stop-color="#e23524"/><stop offset="0.9690" stop-color="#d32d1a"/><stop offset="0.9701" stop-color="#ce2a16"/><stop offset="0.9712" stop-color="#d02b17"/><stop offset="0.9723" stop-color="#da301e"/><stop offset="0.9735" stop-color="#e93928"/><stop offset="0.9746" stop-color="#eb3e2a"/><stop offset="0.9757" stop-color="#eb3f2a"/><stop offset="0.9768" stop-color="#ea3b29"/><stop offset="0.9779" stop-color="#de3321"/><stop offset="0.9790" stop-color="#cf2b17"/><stop offset="0.9801" stop-color="#cd2915"/><stop offset="0.9812" stop-color="#cd2a16"/><stop offset="0.9823" stop-color="#d8301d"/><stop offset="0.9834" stop-color="#e93928"/><stop offset="0.9845" stop-color="#eb3e2a"/><stop offset="0.9856" stop-color="#eb3f2a"/><stop offset="0.9867" stop-color="#e93b29"/><stop offset="0.9878" stop-color="#dd3220"/><stop offset="0.9889" stop-color="#cf2a17"/><stop offset="0.9900" stop-color="#cd2915"/><stop offset="0.9912" stop-color="#ce2a16"/><stop offset="0.9923" stop-color="#db311f"/><stop offset="0.9934" stop-color="#e93a28"/><stop offset="0.9945" stop-color="#eb3e29"/><stop offset="0.9956" stop-color="#eb3e2a"/><stop offset="0.9967" stop-color="#ea3c29"/><stop offset="0.9978" stop-color="#e73827"/><stop offset="0.9989" stop-color="#db311f"/><stop offset="1.0000" stop-color="#ce2a16"/></linearGradient></defs>
<rect x="102.0" y="352.7" width="1023.1" height="511.3" fill="#e6e6d6"/>
<polygon points="102.0,864.0 102.0,355.6 113.0,355.6 118.0,359.0 122.0,362.0 125.0,366.0 130.0,373.0 135.0,379.0 140.0,385.0 145.0,390.0 150.0,394.0 155.0,398.0 160.0,402.0 165.0,405.5 169.0,410.0 172.0,411.5 175.0,407.0 178.0,404.0 181.0,405.0 184.5,408.0 186.6,417.0 188.0,470.0 189.0,540.0 190.0,573.0 192.5,560.0 195.5,436.0 197.0,434.0 198.5,500.0 200.0,568.0 203.0,560.0 205.2,495.0 206.5,493.0 208.0,560.0 210.5,623.0 213.0,600.0 215.5,489.0 217.0,487.0 218.5,560.0 221.0,628.0 224.6,539.5 226.8,538.8 228.8,621.2 230.9,620.4 232.9,540.1 235.1,539.8 237.6,616.5 239.8,616.5 242.2,538.6 244.4,538.5 246.6,616.6 248.8,615.7 250.9,539.8 253.1,540.4 255.3,617.0 257.5,616.4 259.7,540.4 261.9,541.3 264.1,620.6 266.4,620.4 268.6,541.4 270.8,540.5 273.0,622.9 275.2,622.4 277.5,538.9 279.7,538.2 282.8,668.0 284.8,670.0 287.2,541.0 290.0,539.0 292.8,672.0 294.8,674.0 297.0,601.0 299.4,599.0 301.4,675.0 303.2,677.0 304.6,599.0 306.2,597.0 308.5,619.0 311.5,597.2 313.7,597.9 315.4,618.1 317.6,618.2 319.2,598.6 321.4,598.3 323.0,620.3 325.2,619.4 326.9,596.2 329.1,595.7 330.8,621.1 333.0,620.9 334.6,597.3 336.8,597.4 338.4,619.7 340.6,619.3 342.3,599.2 344.5,599.6 346.1,618.5 348.4,618.6 350.0,598.1 352.2,598.9 353.8,621.4 356.0,621.0 357.7,599.9 359.9,599.2 361.5,619.5 363.8,620.0 365.4,596.6 367.6,596.6 369.2,617.2 371.4,617.6 373.1,599.1 375.3,599.2 376.9,622.3 379.1,621.9 380.8,598.8 383.0,599.0 384.6,620.5 386.8,620.4 388.5,599.4 390.7,600.2 392.3,619.8 394.5,620.2 396.2,596.2 398.4,596.6 400.0,620.9 402.2,621.9 403.9,599.3 406.1,598.9 407.7,619.3 409.9,619.7 411.6,596.1 413.8,596.0 416.8,676.0 418.6,678.0 421.7,540.0 423.9,539.2 426.6,674.5 428.9,675.0 431.6,539.9 433.8,539.4 436.4,677.1 438.6,677.9 441.3,539.7 443.5,539.6 446.5,678.4 448.8,679.2 451.8,542.0 454.0,542.7 456.5,676.0 458.5,672.0 461.6,597.3 463.8,597.2 466.0,672.5 468.2,673.2 470.4,599.4 472.6,598.7 474.8,669.2 477.0,668.6 479.3,597.2 481.5,597.2 483.7,676.6 485.9,676.1 488.1,596.5 490.3,596.4 492.5,672.6 494.7,672.8 496.9,599.4 499.1,599.7 501.3,675.3 503.5,675.5 505.7,598.5 507.9,597.6 510.2,682.2 512.4,682.8 514.6,599.1 516.8,599.7 519.0,673.1 521.2,672.9 523.4,596.8 525.6,597.1 527.8,667.1 530.0,666.3 532.2,597.1 534.4,596.5 536.7,672.1 538.9,671.2 541.1,596.5 543.3,595.8 545.5,667.8 547.7,667.6 549.9,596.6 552.1,597.3 554.3,677.1 556.5,676.4 558.7,597.3 560.9,597.0 562.9,680.0 564.9,681.0 567.9,596.6 570.1,595.8 571.9,622.4 574.1,623.4 575.9,596.9 578.1,596.9 579.9,682.3 582.1,681.5 583.9,596.5 586.1,596.1 587.9,622.3 590.1,621.6 591.9,595.6 594.1,596.5 596.1,684.1 598.4,683.4 600.4,597.1 602.6,596.2 604.5,668.1 606.8,669.1 608.7,598.1 610.9,598.5 613.0,677.0 615.2,676.8 617.4,596.0 619.6,596.5 621.5,624.1 623.8,624.7 625.7,596.5 627.9,595.9 629.5,623.2 631.8,624.2 633.4,598.1 635.6,598.7 637.6,686.0 639.6,688.0 642.7,543.0 644.9,543.4 647.7,671.7 649.9,671.8 652.7,541.6 654.9,540.6 657.8,669.3 660.0,668.9 662.9,541.3 665.1,541.7 668.5,717.0 670.5,718.0 673.2,600.0 676.2,598.0 679.0,718.0 681.0,719.0 683.5,600.0 686.5,598.0 688.7,719.0 690.7,720.0 694.4,599.4 696.6,599.3 698.9,690.7 701.1,691.7 703.3,599.4 705.5,599.1 707.7,676.4 709.9,675.9 712.2,597.1 714.4,596.5 716.6,684.5 718.9,685.3 721.1,599.0 723.3,599.0 725.5,685.1 727.7,685.7 730.0,596.8 732.2,597.1 734.4,690.2 736.6,690.8 738.9,598.8 741.1,598.7 743.3,675.6 745.5,676.1 747.8,597.5 750.0,598.1 752.2,691.4 754.4,691.2 756.7,597.7 758.9,598.6 761.1,686.5 763.3,685.8 765.6,596.9 767.8,596.2 770.0,690.1 772.2,690.7 774.5,596.9 776.7,597.6 778.9,691.6 781.1,691.9 783.4,597.6 785.6,597.6 787.8,674.6 790.0,673.6 792.3,599.4 794.5,599.7 796.7,682.5 798.9,683.4 801.2,597.8 803.4,598.5 805.6,688.5 807.8,687.9 810.1,597.3 812.3,596.8 814.5,676.8 816.7,677.0 819.0,597.3 821.2,597.1 824.0,686.0 824.6,686.0 827.4,596.9 829.6,597.7 831.4,619.4 833.6,619.3 835.3,598.3 837.5,599.1 839.2,619.7 841.4,620.5 843.2,598.0 845.4,598.1 847.5,683.0 848.0,683.0 850.6,598.1 852.8,597.1 856.0,684.0 856.6,684.0 859.9,540.8 862.1,540.2 865.1,675.0 867.3,675.6 870.3,540.0 872.5,540.0 875.3,682.3 877.5,682.4 880.3,540.5 882.5,540.5 886.0,716.0 888.0,717.0 890.5,600.0 893.5,598.0 896.6,709.0 898.6,710.0 900.8,600.0 903.6,598.0 905.8,713.0 907.8,714.0 911.4,598.2 913.6,598.7 915.9,676.1 918.1,676.2 920.3,597.2 922.5,596.8 924.7,682.7 926.9,682.7 929.2,598.2 931.4,598.7 933.6,684.1 935.9,684.0 938.1,598.3 940.3,598.3 942.5,680.1 944.7,680.5 947.0,597.9 949.2,597.9 951.4,679.8 953.6,680.7 955.9,598.6 958.1,599.4 960.3,684.4 962.5,683.9 964.8,598.2 967.0,599.1 969.2,683.4 971.4,682.7 973.7,596.9 975.9,596.7 978.1,675.7 980.3,675.2 982.6,596.7 984.8,597.1 987.0,682.8 989.2,683.6 991.5,597.0 993.7,597.4 995.9,681.6 998.1,680.9 1000.4,599.1 1002.6,600.1 1004.8,640.0 1006.0,683.0 1006.0,864.0" fill="url(#gg)"/>
<path d="M102.0 455.5H1125.1M102.0 557.5H1125.1M102.0 659.5H1125.1M102.0 762.5H1125.1" stroke="rgba(70,70,50,.55)" stroke-width="1" fill="none"/>
<path d="M253.5 352.7V864.0M405.5 352.7V864.0M556.5 352.7V864.0M708.5 352.7V864.0M860.5 352.7V864.0M1011.5 352.7V864.0" stroke="rgba(40,40,30,.72)" stroke-width="1" fill="none"/>
<clipPath id="gc"><rect x="102.0" y="352.7" width="1023.1" height="511.3"/></clipPath>
<polyline clip-path="url(#gc)" points="102.0,355.6 113.0,355.6 118.0,359.0 122.0,362.0 125.0,366.0 130.0,373.0 135.0,379.0 140.0,385.0 145.0,390.0 150.0,394.0 155.0,398.0 160.0,402.0 165.0,405.5 169.0,410.0 172.0,411.5 175.0,407.0 178.0,404.0 181.0,405.0 184.5,408.0 186.6,417.0 188.0,470.0 189.0,540.0 190.0,573.0 192.5,560.0 195.5,436.0 197.0,434.0 198.5,500.0 200.0,568.0 203.0,560.0 205.2,495.0 206.5,493.0 208.0,560.0 210.5,623.0 213.0,600.0 215.5,489.0 217.0,487.0 218.5,560.0 221.0,628.0 224.6,539.5 226.8,538.8 228.8,621.2 230.9,620.4 232.9,540.1 235.1,539.8 237.6,616.5 239.8,616.5 242.2,538.6 244.4,538.5 246.6,616.6 248.8,615.7 250.9,539.8 253.1,540.4 255.3,617.0 257.5,616.4 259.7,540.4 261.9,541.3 264.1,620.6 266.4,620.4 268.6,541.4 270.8,540.5 273.0,622.9 275.2,622.4 277.5,538.9 279.7,538.2 282.8,668.0 284.8,670.0 287.2,541.0 290.0,539.0 292.8,672.0 294.8,674.0 297.0,601.0 299.4,599.0 301.4,675.0 303.2,677.0 304.6,599.0 306.2,597.0 308.5,619.0 311.5,597.2 313.7,597.9 315.4,618.1 317.6,618.2 319.2,598.6 321.4,598.3 323.0,620.3 325.2,619.4 326.9,596.2 329.1,595.7 330.8,621.1 333.0,620.9 334.6,597.3 336.8,597.4 338.4,619.7 340.6,619.3 342.3,599.2 344.5,599.6 346.1,618.5 348.4,618.6 350.0,598.1 352.2,598.9 353.8,621.4 356.0,621.0 357.7,599.9 359.9,599.2 361.5,619.5 363.8,620.0 365.4,596.6 367.6,596.6 369.2,617.2 371.4,617.6 373.1,599.1 375.3,599.2 376.9,622.3 379.1,621.9 380.8,598.8 383.0,599.0 384.6,620.5 386.8,620.4 388.5,599.4 390.7,600.2 392.3,619.8 394.5,620.2 396.2,596.2 398.4,596.6 400.0,620.9 402.2,621.9 403.9,599.3 406.1,598.9 407.7,619.3 409.9,619.7 411.6,596.1 413.8,596.0 416.8,676.0 418.6,678.0 421.7,540.0 423.9,539.2 426.6,674.5 428.9,675.0 431.6,539.9 433.8,539.4 436.4,677.1 438.6,677.9 441.3,539.7 443.5,539.6 446.5,678.4 448.8,679.2 451.8,542.0 454.0,542.7 456.5,676.0 458.5,672.0 461.6,597.3 463.8,597.2 466.0,672.5 468.2,673.2 470.4,599.4 472.6,598.7 474.8,669.2 477.0,668.6 479.3,597.2 481.5,597.2 483.7,676.6 485.9,676.1 488.1,596.5 490.3,596.4 492.5,672.6 494.7,672.8 496.9,599.4 499.1,599.7 501.3,675.3 503.5,675.5 505.7,598.5 507.9,597.6 510.2,682.2 512.4,682.8 514.6,599.1 516.8,599.7 519.0,673.1 521.2,672.9 523.4,596.8 525.6,597.1 527.8,667.1 530.0,666.3 532.2,597.1 534.4,596.5 536.7,672.1 538.9,671.2 541.1,596.5 543.3,595.8 545.5,667.8 547.7,667.6 549.9,596.6 552.1,597.3 554.3,677.1 556.5,676.4 558.7,597.3 560.9,597.0 562.9,680.0 564.9,681.0 567.9,596.6 570.1,595.8 571.9,622.4 574.1,623.4 575.9,596.9 578.1,596.9 579.9,682.3 582.1,681.5 583.9,596.5 586.1,596.1 587.9,622.3 590.1,621.6 591.9,595.6 594.1,596.5 596.1,684.1 598.4,683.4 600.4,597.1 602.6,596.2 604.5,668.1 606.8,669.1 608.7,598.1 610.9,598.5 613.0,677.0 615.2,676.8 617.4,596.0 619.6,596.5 621.5,624.1 623.8,624.7 625.7,596.5 627.9,595.9 629.5,623.2 631.8,624.2 633.4,598.1 635.6,598.7 637.6,686.0 639.6,688.0 642.7,543.0 644.9,543.4 647.7,671.7 649.9,671.8 652.7,541.6 654.9,540.6 657.8,669.3 660.0,668.9 662.9,541.3 665.1,541.7 668.5,717.0 670.5,718.0 673.2,600.0 676.2,598.0 679.0,718.0 681.0,719.0 683.5,600.0 686.5,598.0 688.7,719.0 690.7,720.0 694.4,599.4 696.6,599.3 698.9,690.7 701.1,691.7 703.3,599.4 705.5,599.1 707.7,676.4 709.9,675.9 712.2,597.1 714.4,596.5 716.6,684.5 718.9,685.3 721.1,599.0 723.3,599.0 725.5,685.1 727.7,685.7 730.0,596.8 732.2,597.1 734.4,690.2 736.6,690.8 738.9,598.8 741.1,598.7 743.3,675.6 745.5,676.1 747.8,597.5 750.0,598.1 752.2,691.4 754.4,691.2 756.7,597.7 758.9,598.6 761.1,686.5 763.3,685.8 765.6,596.9 767.8,596.2 770.0,690.1 772.2,690.7 774.5,596.9 776.7,597.6 778.9,691.6 781.1,691.9 783.4,597.6 785.6,597.6 787.8,674.6 790.0,673.6 792.3,599.4 794.5,599.7 796.7,682.5 798.9,683.4 801.2,597.8 803.4,598.5 805.6,688.5 807.8,687.9 810.1,597.3 812.3,596.8 814.5,676.8 816.7,677.0 819.0,597.3 821.2,597.1 824.0,686.0 824.6,686.0 827.4,596.9 829.6,597.7 831.4,619.4 833.6,619.3 835.3,598.3 837.5,599.1 839.2,619.7 841.4,620.5 843.2,598.0 845.4,598.1 847.5,683.0 848.0,683.0 850.6,598.1 852.8,597.1 856.0,684.0 856.6,684.0 859.9,540.8 862.1,540.2 865.1,675.0 867.3,675.6 870.3,540.0 872.5,540.0 875.3,682.3 877.5,682.4 880.3,540.5 882.5,540.5 886.0,716.0 888.0,717.0 890.5,600.0 893.5,598.0 896.6,709.0 898.6,710.0 900.8,600.0 903.6,598.0 905.8,713.0 907.8,714.0 911.4,598.2 913.6,598.7 915.9,676.1 918.1,676.2 920.3,597.2 922.5,596.8 924.7,682.7 926.9,682.7 929.2,598.2 931.4,598.7 933.6,684.1 935.9,684.0 938.1,598.3 940.3,598.3 942.5,680.1 944.7,680.5 947.0,597.9 949.2,597.9 951.4,679.8 953.6,680.7 955.9,598.6 958.1,599.4 960.3,684.4 962.5,683.9 964.8,598.2 967.0,599.1 969.2,683.4 971.4,682.7 973.7,596.9 975.9,596.7 978.1,675.7 980.3,675.2 982.6,596.7 984.8,597.1 987.0,682.8 989.2,683.6 991.5,597.0 993.7,597.4 995.9,681.6 998.1,680.9 1000.4,599.1 1002.6,600.1 1004.8,640.0 1006.0,683.0" fill="none" stroke="#050505" stroke-width="4.2" stroke-linejoin="miter" stroke-miterlimit="1.5" stroke-linecap="square"/>
<polyline clip-path="url(#gc)" points="102.0,355.6 113.0,355.6 118.0,359.0 122.0,362.0 125.0,366.0 130.0,373.0 135.0,379.0 140.0,385.0 145.0,390.0 150.0,394.0 155.0,398.0 160.0,402.0 165.0,405.5 169.0,410.0 172.0,411.5 175.0,407.0 178.0,404.0 181.0,405.0 184.5,408.0 186.6,417.0" fill="none" stroke="#050505" stroke-width="5" stroke-linejoin="round"/>
<rect x="668.5" y="644" width="13.5" height="6.500" fill="#1c1cf0"/>
</svg>
<span class="t" style="left:20.2px;top:333.7px;font-size:33.0px;color:#c2c2c2;transform:scaleX(0.9595);">100%</span>
<span class="t" style="left:36.1px;top:435.3px;font-size:33.0px;color:#c2c2c2;transform:scaleX(0.9854);">80%</span>
<span class="t" style="left:35.9px;top:537.5px;font-size:33.0px;color:#c2c2c2;transform:scaleX(0.9893);">60%</span>
<span class="t" style="left:36.8px;top:639.9px;font-size:33.0px;color:#c2c2c2;transform:scaleX(0.9753);">40%</span>
<span class="t" style="left:35.9px;top:742.2px;font-size:33.0px;color:#c2c2c2;transform:scaleX(0.9893);">20%</span>
<span class="t" style="left:84.4px;top:844.1px;font-size:33.0px;color:#c2c2c2;transform:scaleX(0.9217);">0</span>
<span class="t" style="left:825.1px;top:869.7px;font-size:33.0px;color:#c2c2c2;transform:scaleX(1.0415);">time(interval 10min)</span>
</section>
<section class="grp" id="stats">
<span class="t" style="left:416.8px;top:918.7px;font-size:50.5px;color:#c6c6c6;transform:scaleX(1.0796);">Performance</span>
<span class="t" style="left:20.9px;top:984.9px;font-size:45.0px;color:#5ca856;transform:scaleX(0.9886);">Max 557,329GIPS</span>
<span class="t" style="left:397.5px;top:984.9px;font-size:45.0px;color:#a8324a;transform:scaleX(0.9773);">Avg 302,072GIPS</span>
<span class="t" style="left:765.2px;top:984.9px;font-size:45.0px;color:#a34a45;transform:scaleX(0.9890);">Min 162,740GIPS</span>
<span class="t" style="left:97.9px;top:1043.9px;font-size:46.5px;color:#c6c6c6;transform:scaleX(1.0261);">CPU throttled to 42% of its max performance</span>
</section>
<span class="t" style="left:446.1px;top:1139.2px;font-size:41.5px;color:#c6c6c6;transform:scaleX(1.0635);">CPU Monitor</span>
<section id="panel">
<div class="cell" style="left:22.0px;top:32.8px;"></div>
<span class="t" style="left:23.6px;top:-0.6px;font-size:35.5px;color:#58bb50;transform:scaleX(0.9387);-webkit-text-stroke:0.90px #58bb50;">2.61GHz</span>
<span class="t" style="left:177.5px;top:-0.6px;font-size:35.5px;color:#ddd370;transform:scaleX(0.9462);-webkit-text-stroke:0.90px #ddd370;">T40C</span>
<div class="cell" style="left:293.0px;top:32.8px;"></div>
<span class="t" style="left:294.6px;top:-0.6px;font-size:35.5px;color:#58bb50;transform:scaleX(0.9387);-webkit-text-stroke:0.90px #58bb50;">2.61GHz</span>
<span class="t" style="left:448.6px;top:-0.6px;font-size:35.5px;color:#ddd370;transform:scaleX(0.9146);-webkit-text-stroke:0.90px #ddd370;">T0C</span>
<div class="cell" style="left:564.0px;top:32.8px;"></div>
<span class="t" style="left:565.6px;top:-0.6px;font-size:35.5px;color:#58bb50;transform:scaleX(0.9387);-webkit-text-stroke:0.90px #58bb50;">2.61GHz</span>
<span class="t" style="left:719.5px;top:-0.6px;font-size:35.5px;color:#ddd370;transform:scaleX(0.9462);-webkit-text-stroke:0.90px #ddd370;">T40C</span>
<div class="cell" style="left:834.6px;top:32.8px;"></div>
<span class="t" style="left:836.2px;top:-0.6px;font-size:35.5px;color:#58bb50;transform:scaleX(0.9387);-webkit-text-stroke:0.90px #58bb50;">2.61GHz</span>
<span class="t" style="left:990.2px;top:-0.6px;font-size:35.5px;color:#ddd370;transform:scaleX(0.9146);-webkit-text-stroke:0.90px #ddd370;">T0C</span>
<div class="cell" style="left:22.0px;top:287.2px;"></div>
<span class="t" style="left:23.6px;top:253.8px;font-size:35.5px;color:#58bb50;transform:scaleX(0.9387);-webkit-text-stroke:0.90px #58bb50;">2.61GHz</span>
<span class="t" style="left:177.5px;top:253.8px;font-size:35.5px;color:#ddd370;transform:scaleX(0.9462);-webkit-text-stroke:0.90px #ddd370;">T40C</span>
<div class="cell" style="left:293.0px;top:287.2px;"></div>
<span class="t" style="left:294.6px;top:253.8px;font-size:35.5px;color:#58bb50;transform:scaleX(0.9387);-webkit-text-stroke:0.90px #58bb50;">2.61GHz</span>
<span class="t" style="left:448.6px;top:253.8px;font-size:35.5px;color:#ddd370;transform:scaleX(0.9146);-webkit-text-stroke:0.90px #ddd370;">T0C</span>
<div class="cell" style="left:564.0px;top:287.2px;"></div>
<span class="t" style="left:566.6px;top:253.8px;font-size:35.5px;color:#58bb50;transform:scaleX(0.9321);-webkit-text-stroke:0.90px #58bb50;">4.60GHz</span>
<span class="t" style="left:719.5px;top:253.8px;font-size:35.5px;color:#ddd370;transform:scaleX(0.9462);-webkit-text-stroke:0.90px #ddd370;">T40C</span>
<div class="cell" style="left:834.6px;top:287.2px;"></div>
<span class="t" style="left:837.2px;top:253.8px;font-size:35.5px;color:#58bb50;transform:scaleX(0.9321);-webkit-text-stroke:0.90px #58bb50;">4.60GHz</span>
<span class="t" style="left:990.1px;top:253.8px;font-size:35.5px;color:#ddd370;transform:scaleX(0.9462);-webkit-text-stroke:0.90px #ddd370;">T39C</span>
<svg width="1145" height="1760" viewBox="0 0 1145 1760" style="left:-20px;top:-1186.2px"><path d="M92.5 1219.0V1440.2M141.5 1219.0V1440.2M191.5 1219.0V1440.2M241.5 1219.0V1440.2" stroke="#8a8a80" stroke-width="1" fill="none"/><path d="M42.0 1263.5H291.0M42.0 1307.5H291.0M42.0 1352.5H291.0M42.0 1396.5H291.0" stroke="#9a9a8c" stroke-width="1" fill="none"/><polyline points="42.0,1316.5 202.2,1316.5 204.5,1289.0 209.1,1289.0 211.4,1316.5 291.0,1316.5" fill="none" stroke="#387c28" stroke-width="7.4" stroke-linejoin="miter"/><polyline points="42.0,1350.6 132.0,1350.6 133.0,1347.6 139.0,1347.6 140.0,1350.6 163.0,1350.6 164.0,1354.1 177.0,1354.1 178.0,1350.6 201.8,1350.6 204.8,1338.1 207.8,1338.1 211.8,1350.6 238.0,1350.6 239.0,1348.1 245.0,1348.1 246.0,1350.6 291.0,1350.6" fill="none" stroke="#b4802d" stroke-width="7.2" stroke-linejoin="miter"/><path d="M363.5 1219.0V1440.2M412.5 1219.0V1440.2M462.5 1219.0V1440.2M512.5 1219.0V1440.2" stroke="#8a8a80" stroke-width="1" fill="none"/><path d="M313.0 1263.5H562.0M313.0 1307.5H562.0M313.0 1352.5H562.0M313.0 1396.5H562.0" stroke="#9a9a8c" stroke-width="1" fill="none"/><polyline points="313.0,1316.5 473.2,1316.5 475.5,1289.0 480.1,1289.0 482.4,1316.5 562.0,1316.5" fill="none" stroke="#387c28" stroke-width="7.4" stroke-linejoin="miter"/><rect x="313.0" y="1433.8" width="249" height="6.500" fill="#b4802d"/><path d="M634.5 1219.0V1440.2M683.5 1219.0V1440.2M733.5 1219.0V1440.2M783.5 1219.0V1440.2" stroke="#8a8a80" stroke-width="1" fill="none"/><path d="M584.0 1263.5H833.0M584.0 1307.5H833.0M584.0 1352.5H833.0M584.0 1396.5H833.0" stroke="#9a9a8c" stroke-width="1" fill="none"/><polyline points="584.0,1316.5 744.2,1316.5 746.5,1289.0 751.1,1289.0 753.4,1316.5 833.0,1316.5" fill="none" stroke="#387c28" stroke-width="7.4" stroke-linejoin="miter"/><polyline points="584.0,1349.0 596.0,1349.0 597.0,1350.5 622.0,1350.5 623.0,1348.5 628.0,1348.5 629.0,1350.5 672.0,1350.5 673.0,1348.5 682.0,1348.5 683.0,1350.5 743.8,1350.5 746.8,1333.5 749.8,1333.5 753.8,1349.5 762.0,1349.5 763.0,1351.2 787.0,1351.2 788.0,1349.0 796.0,1349.0 797.0,1351.2 816.0,1351.2 817.0,1349.0 825.0,1349.0 826.0,1351.2 833.0,1351.2" fill="none" stroke="#b4802d" stroke-width="7.2" stroke-linejoin="miter"/><path d="M904.5 1219.0V1440.2M954.5 1219.0V1440.2M1004.5 1219.0V1440.2M1054.5 1219.0V1440.2" stroke="#8a8a80" stroke-width="1" fill="none"/><path d="M854.6 1263.5H1103.6M854.6 1307.5H1103.6M854.6 1352.5H1103.6M854.6 1396.5H1103.6" stroke="#9a9a8c" stroke-width="1" fill="none"/><polyline points="854.6,1316.5 1014.8,1316.5 1017.1,1289.0 1021.7,1289.0 1024.0,1316.5 1103.6,1316.5" fill="none" stroke="#387c28" stroke-width="7.4" stroke-linejoin="miter"/><rect x="854.6" y="1433.8" width="249" height="6.500" fill="#b4802d"/><path d="M92.5 1473.4V1694.6M141.5 1473.4V1694.6M191.5 1473.4V1694.6M241.5 1473.4V1694.6" stroke="#8a8a80" stroke-width="1" fill="none"/><path d="M42.0 1517.5H291.0M42.0 1562.5H291.0M42.0 1606.5H291.0M42.0 1651.5H291.0" stroke="#9a9a8c" stroke-width="1" fill="none"/><polyline points="42.0,1570.0 202.2,1570.0 204.5,1542.5 209.1,1542.5 211.4,1570.0 291.0,1570.0" fill="none" stroke="#387c28" stroke-width="7.4" stroke-linejoin="miter"/><polyline points="42.0,1604.4 51.0,1604.4 52.0,1606.4 132.0,1606.4 133.0,1604.4 138.0,1604.4 139.0,1606.4 200.8,1606.4 206.8,1600.4 212.8,1606.4 246.0,1606.4 247.0,1604.4 251.0,1604.4 252.0,1606.4 282.0,1606.4 283.0,1603.9 291.0,1603.9" fill="none" stroke="#b4802d" stroke-width="7.2" stroke-linejoin="miter"/><path d="M363.5 1473.4V1694.6M412.5 1473.4V1694.6M462.5 1473.4V1694.6M512.5 1473.4V1694.6" stroke="#8a8a80" stroke-width="1" fill="none"/><path d="M313.0 1517.5H562.0M313.0 1562.5H562.0M313.0 1606.5H562.0M313.0 1651.5H562.0" stroke="#9a9a8c" stroke-width="1" fill="none"/><polyline points="313.0,1570.0 473.2,1570.0 475.5,1542.5 480.1,1542.5 482.4,1570.0 562.0,1570.0" fill="none" stroke="#387c28" stroke-width="7.4" stroke-linejoin="miter"/><rect x="313.0" y="1688.2" width="249" height="6.500" fill="#b4802d"/><path d="M634.5 1473.4V1694.6M683.5 1473.4V1694.6M733.5 1473.4V1694.6M783.5 1473.4V1694.6" stroke="#8a8a80" stroke-width="1" fill="none"/><path d="M584.0 1517.5H833.0M584.0 1562.5H833.0M584.0 1606.5H833.0M584.0 1651.5H833.0" stroke="#9a9a8c" stroke-width="1" fill="none"/><rect x="584.0" y="1472.9" width="249" height="7" fill="#387c28"/><polyline points="584.0,1604.9 594.0,1604.9 595.0,1607.4 620.0,1607.4 621.0,1604.9 644.0,1604.9 645.0,1607.4 656.0,1607.4 657.0,1605.4 661.0,1605.4 662.0,1607.4 670.0,1607.4 671.0,1604.9 694.0,1604.9 695.0,1607.4 740.0,1607.4 745.8,1605.4 747.3,1599.4 750.8,1599.4 753.8,1604.9 774.0,1604.9 775.0,1606.4 787.0,1606.4 788.0,1604.4 794.0,1604.4 795.0,1607.4 824.0,1607.4 825.0,1604.4 833.0,1604.4" fill="none" stroke="#b4802d" stroke-width="7.2" stroke-linejoin="miter"/><path d="M904.5 1473.4V1694.6M954.5 1473.4V1694.6M1004.5 1473.4V1694.6M1054.5 1473.4V1694.6" stroke="#8a8a80" stroke-width="1" fill="none"/><path d="M854.6 1517.5H1103.6M854.6 1562.5H1103.6M854.6 1606.5H1103.6M854.6 1651.5H1103.6" stroke="#9a9a8c" stroke-width="1" fill="none"/><rect x="854.6" y="1472.9" width="249" height="7" fill="#387c28"/><polyline points="854.6,1606.8 1103.6,1606.8" fill="none" stroke="#b4802d" stroke-width="7.2" stroke-linejoin="miter"/></svg>
<span class="t" style="left:0.2px;top:507.5px;font-size:35.5px;color:#58bb50;transform:scaleX(0.9318);-webkit-text-stroke:0.90px #58bb50;">MAX CPU CLOCK:4.60GHz,</span>
<span class="t" style="left:409.3px;top:507.5px;font-size:35.5px;color:#ddd370;transform:scaleX(0.9244);-webkit-text-stroke:0.90px #ddd370;">TEMPERATURE:99C</span>
</section>
<div class="btn" style="left:32px;top:1746.8px;width:528px;height:114.4px;"><span class="t" style="left:101.9px;top:31.5px;font-size:54.0px;color:#ffffff;transform:scaleX(0.9729);-webkit-text-stroke:0.60px #ffffff;">TEST JAVA/C</span></div>
<div class="btn" style="left:585px;top:1746.8px;width:529px;height:114.4px;"><span class="t" style="left:149.7px;top:31.5px;font-size:54.0px;color:#ffffff;transform:scaleX(0.9385);-webkit-text-stroke:0.60px #ffffff;">OPTIONS</span></div>
<div class="btn" style="left:285px;top:1899.7px;width:575px;height:114.6px;"><span class="t" style="left:24.7px;top:30.7px;font-size:55.0px;color:#ffffff;transform:scaleX(0.9180);-webkit-text-stroke:0.60px #ffffff;">HELP/INSTRUCTIONS</span></div>
</main>
<footer id="nav"><div class="pill"></div></footer>
</body></html>
